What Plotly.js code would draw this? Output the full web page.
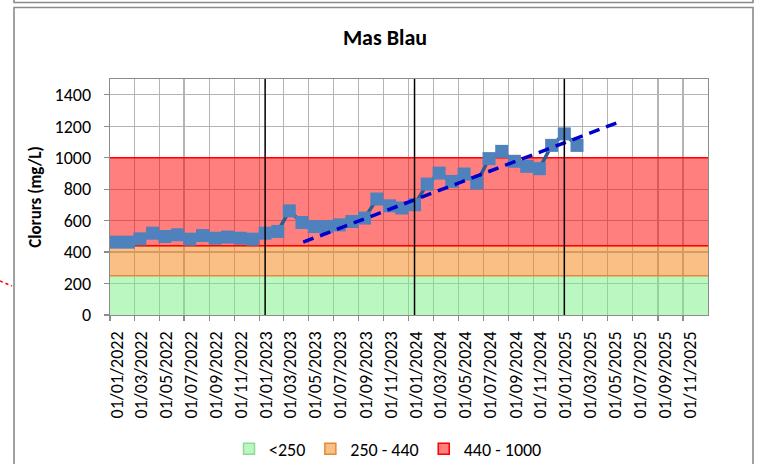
<!DOCTYPE html>
<html>
<head>
<meta charset="utf-8">
<script src="https://cdn.plot.ly/plotly-3.0.1.min.js"></script>
<style>
html,body{margin:0;padding:0;background:#fff;}
#chart{width:757px;height:464px;}
</style>
</head>
<body>
<div id="chart"></div>
<script>
// ---------- data ----------
const sampleDates = [
  '2022-01-15','2022-02-15','2022-03-15','2022-04-15','2022-05-15','2022-06-15',
  '2022-07-15','2022-08-15','2022-09-15','2022-10-15','2022-11-15','2022-12-15',
  '2023-01-15','2023-02-15','2023-03-15','2023-04-15','2023-05-15','2023-06-15',
  '2023-07-15','2023-08-15','2023-09-15','2023-10-15','2023-11-15','2023-12-15',
  '2024-01-15','2024-02-15','2024-03-15','2024-04-15','2024-05-15','2024-06-15',
  '2024-07-15','2024-08-15','2024-09-15','2024-10-15','2024-11-15','2024-12-15',
  '2025-01-15','2025-02-15'
];
const chlorides = [
  463, 463, 484, 520, 499, 510, 482, 505, 488, 495, 488, 482,
  520, 531, 662, 588, 562, 562, 573, 594, 616, 737, 694, 680,
  701, 832, 902, 849, 896, 839, 994, 1040, 977, 945, 930, 1078,
  1151, 1078
];
const trendDates = ['2023-04-18', '2025-05-22'];
const trendValues = [463, 1220];
const eventDates = ['2023-01-15', '2024-01-15', '2025-01-15'];
const bandEdges = [0, 250, 440, 1000];
const bandNames = ['<250', '250 - 440', '440 - 1000'];
const tickDates = [
  '2022-01-01','2022-03-01','2022-05-01','2022-07-01','2022-09-01','2022-11-01',
  '2023-01-01','2023-03-01','2023-05-01','2023-07-01','2023-09-01','2023-11-01',
  '2024-01-01','2024-03-01','2024-05-01','2024-07-01','2024-09-01','2024-11-01',
  '2025-01-01','2025-03-01','2025-05-01','2025-07-01','2025-09-01','2025-11-01'
];
const tickLabels = [
  '01/01/2022','01/03/2022','01/05/2022','01/07/2022','01/09/2022','01/11/2022',
  '01/01/2023','01/03/2023','01/05/2023','01/07/2023','01/09/2023','01/11/2023',
  '01/01/2024','01/03/2024','01/05/2024','01/07/2024','01/09/2024','01/11/2024',
  '01/01/2025','01/03/2025','01/05/2025','01/07/2025','01/09/2025','01/11/2025'
];
const yTicks = [0, 200, 400, 600, 800, 1000, 1200, 1400];
const xRange = ['2022-01-01', '2026-01-01'];
const yRange = [0, 1500];

// ---------- styles ----------
const FONT = 'Carlito, Lato, "Liberation Sans", sans-serif';
const bandFills = ['rgba(120,240,130,0.5)', 'rgba(246,128,10,0.5)', 'rgba(255,0,0,0.5)'];
const bandLines = ['#8EDB95', '#E3893A', '#FF0000'];
const PL = 110, PR = 708, PT = 79, PB = 315, W = 757, H = 464;
const px = v => (v - PL) / (PR - PL);
const py = v => (PB - v) / (PB - PT);

const traces = [];
for (let i = 0; i < bandNames.length; i++) {
  traces.push({
    type: 'scatter', mode: 'lines', x: xRange, y: [bandEdges[i], bandEdges[i]],
    line: {color: bandLines[i], width: i === 0 ? 0 : 1.5}, showlegend: false, hoverinfo: 'skip'
  });
  traces.push({
    type: 'scatter', mode: 'lines', x: xRange, y: [bandEdges[i + 1], bandEdges[i + 1]],
    fill: 'tonexty', fillcolor: bandFills[i],
    line: {color: bandLines[i], width: i === 0 ? 0 : 1.5}, showlegend: false, hoverinfo: 'skip'
  });
}
for (let i = 0; i < bandNames.length; i++) {
  traces.push({
    type: 'scatter', mode: 'markers', x: [null], y: [null], name: bandNames[i],
    marker: {symbol: 'square', size: 11, color: bandFills[i], line: {color: bandLines[i], width: 1.5}},
    showlegend: true
  });
}
traces.push({
  type: 'scatter', mode: 'lines+markers', x: sampleDates, y: chlorides, showlegend: false,
  line: {color: '#2B5C8F', width: 3.5},
  marker: {symbol: 'square', size: 13, color: '#4F81BD', line: {width: 0}}
});
traces.push({
  type: 'scatter', mode: 'lines', x: trendDates, y: trendValues, showlegend: false,
  line: {color: '#0000CC', width: 3.5, dash: '11px,7px'}
});

const shapes = eventDates.map(d => ({
  type: 'line', xref: 'x', yref: 'paper', x0: d, x1: d, y0: 0, y1: 1,
  line: {color: '#000000', width: 1.5}, layer: 'above'
}));
shapes.push({type: 'rect', xref: 'paper', yref: 'paper', x0: px(14), x1: px(753), y0: py(475), y1: py(7.5),
  line: {color: '#8A8A8A', width: 1.6}, fillcolor: 'rgba(0,0,0,0)', layer: 'below'});
shapes.push({type: 'rect', xref: 'paper', yref: 'paper', x0: px(14), x1: px(753), y0: py(2.5), y1: py(-10),
  line: {color: '#8A8A8A', width: 1.6}, fillcolor: 'rgba(0,0,0,0)', layer: 'below'});
shapes.push({type: 'line', xref: 'paper', yref: 'paper', x0: px(0), x1: px(12), y0: py(281), y1: py(286),
  line: {color: '#FF0000', width: 1.5, dash: 'dot'}});

const axisCommon = {
  showgrid: true, gridcolor: '#B4B4B4', gridwidth: 1.2,
  showline: true, linecolor: '#8C8C8C', linewidth: 1.3, mirror: true,
  ticks: 'outside', ticklen: 5, tickcolor: '#8C8C8C', tickwidth: 1.2,
  zeroline: false, tickfont: {family: FONT, size: 18, color: '#000'}, fixedrange: true,
  automargin: false
};

const layout = {
  width: W, height: H,
  margin: {l: PL, r: W - PR, t: PT, b: H - PB, pad: 0},
  paper_bgcolor: '#ffffff', plot_bgcolor: '#ffffff',
  font: {family: FONT, size: 18, color: '#000'},
  title: {text: 'Mas Blau', font: {family: FONT, size: 22, weight: 'bold', color: '#000'},
    x: 385 / W, xref: 'container', xanchor: 'center', y: 1 - 37 / H, yref: 'container', yanchor: 'middle'},
  xaxis: Object.assign({}, axisCommon, {
    type: 'date', range: xRange, tickmode: 'array', tickvals: tickDates, ticktext: tickLabels,
    tickangle: -90, ticklabelshift: 7, ticklabelstandoff: 3
  }),
  yaxis: Object.assign({}, axisCommon, {
    range: yRange, tickmode: 'array', tickvals: yTicks, ticktext: yTicks.map(String),
    ticklabelstandoff: 9,
    title: {text: 'Clorurs (mg/L)', font: {family: FONT, size: 17, weight: 'bold', color: '#000'}, standoff: 8}
  }),
  legend: {orientation: 'h', x: 388 / W, xref: 'container', xanchor: 'center',
    y: 1 - 449 / H, yref: 'container', yanchor: 'middle', traceorder: 'normal',
    font: {family: FONT, size: 18, color: '#000'}, bgcolor: 'rgba(0,0,0,0)', itemwidth: 30, tracegroupgap: 0},
  shapes: shapes,
  showlegend: true,
  hovermode: false
};

Plotly.newPlot('chart', traces, layout, {staticPlot: true, displayModeBar: false});
</script>
</body>
</html>
